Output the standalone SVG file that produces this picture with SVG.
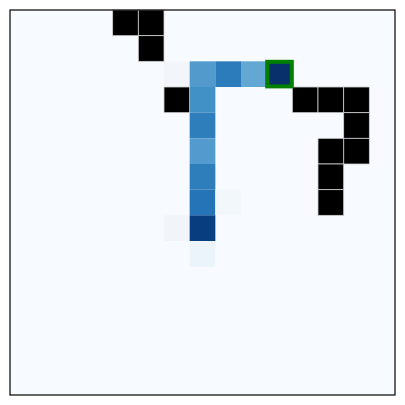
<svg xmlns="http://www.w3.org/2000/svg" width="405" height="405" viewBox="0 0 405 405">
<style>
.wall{fill:#000000;stroke:#cfcfcf;stroke-width:0.8}
</style>
<rect x="0" y="0" width="405" height="405" fill="#ffffff"/>
<rect x="10" y="10" width="385" height="385" fill="#f7fbff"/>
<g id="cells">
<rect x="164" y="61.33" width="25.67" height="25.67" fill="#f2f6fb"/>
<rect x="189.67" y="61.33" width="25.67" height="25.67" fill="#5299cc"/>
<rect x="215.33" y="61.33" width="25.67" height="25.67" fill="#2c7bba"/>
<rect x="241" y="61.33" width="25.67" height="25.67" fill="#62a8d3"/>
<rect x="266.67" y="61.33" width="25.67" height="25.67" fill="#08306b"/>
<rect x="189.67" y="87" width="25.67" height="25.67" fill="#4191c6"/>
<rect x="189.67" y="112.67" width="25.67" height="25.67" fill="#2e7ebc"/>
<rect x="189.67" y="138.33" width="25.67" height="25.67" fill="#539bce"/>
<rect x="189.67" y="164" width="25.67" height="25.67" fill="#2e7ebc"/>
<rect x="189.67" y="189.67" width="25.67" height="25.67" fill="#2474b7"/>
<rect x="215.33" y="189.67" width="25.67" height="25.67" fill="#f2f7fc"/>
<rect x="164" y="215.33" width="25.67" height="25.67" fill="#f1f5fa"/>
<rect x="189.67" y="215.33" width="25.67" height="25.67" fill="#083e80"/>
<rect x="189.67" y="241" width="25.67" height="25.67" fill="#ebf3fb"/>
</g>
<g id="walls">
<rect class="wall" x="112.67" y="10" width="25.67" height="25.67"/>
<rect class="wall" x="138.33" y="10" width="25.67" height="25.67"/>
<rect class="wall" x="138.33" y="35.67" width="25.67" height="25.67"/>
<rect class="wall" x="164" y="87" width="25.67" height="25.67"/>
<rect class="wall" x="292.33" y="87" width="25.67" height="25.67"/>
<rect class="wall" x="318" y="87" width="25.67" height="25.67"/>
<rect class="wall" x="343.67" y="87" width="25.67" height="25.67"/>
<rect class="wall" x="343.67" y="112.67" width="25.67" height="25.67"/>
<rect class="wall" x="343.67" y="138.33" width="25.67" height="25.67"/>
<rect class="wall" x="318" y="138.33" width="25.67" height="25.67"/>
<rect class="wall" x="318" y="164" width="25.67" height="25.67"/>
<rect class="wall" x="318" y="189.67" width="25.67" height="25.67"/>
</g>
<g id="goal">
<rect x="267.2" y="61.8" width="24.6" height="24.6" fill="none" stroke="#008000" stroke-width="4"/>
</g>
<rect x="10" y="10" width="385" height="385" fill="none" stroke="#000000" stroke-width="1.2"/>
</svg>
